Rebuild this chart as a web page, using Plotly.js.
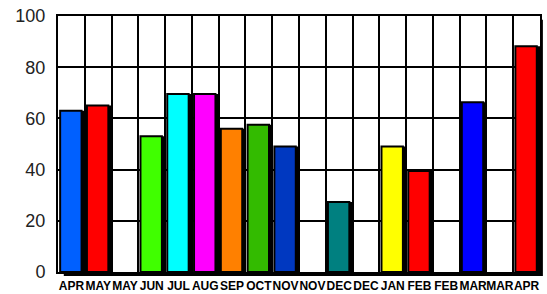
<!DOCTYPE html>
<html><head><meta charset="utf-8">
<script src="https://cdn.plot.ly/plotly-3.0.1.min.js"></script>
<style>html,body{margin:0;padding:0;background:#fff;}</style>
</head><body><div id="chart" style="width:547px;height:294px;"></div>
<script>
const months = ["APR","MAY","MAY","JUN","JUL","AUG","SEP","OCT","NOV","NOV","DEC","DEC","JAN","FEB","FEB","MAR","MAR","APR"];
const values = [63, 65, 0, 53, 69.5, 69.5, 56, 57.5, 49, 0, 27.3, 0, 49, 39.5, 0, 66.3, 0, 88.2];
const colors = ["#0060ff","#ff0000","#ffffff","#40ff00","#00ffff","#ff00ff","#ff8000","#33bb00","#0038c0","#ffffff","#008080","#ffffff","#ffff00","#ff0000","#ffffff","#0000ff","#ffffff","#ff0000"];
const yTicks = [0, 20, 40, 60, 80, 100];

const idx = months.map((m, i) => i);
const has = values.map(v => v > 0);
const xs = idx.filter(i => has[i]);
const ys = xs.map(i => values[i]);
const cs = xs.map(i => colors[i]);

const shadow = {
  type: 'bar', x: xs, y: ys, width: 0.8, offset: -0.29,
  marker: {color: '#000', line: {width: 0}}, hoverinfo: 'skip', showlegend: false
};
const bars = {
  type: 'bar', x: xs, y: ys, width: 0.8, offset: -0.42,
  marker: {color: cs, line: {color: '#000', width: 2}}, showlegend: false
};

const layout = {
  width: 547, height: 294,
  margin: {l: 58, r: 7, t: 16, b: 22},
  paper_bgcolor: '#fff', plot_bgcolor: '#fff',
  barmode: 'overlay',
  font: {family: 'Liberation Sans, Arial, sans-serif', color: '#000'},
  xaxis: {
    range: [-0.5, months.length - 0.5],
    tickmode: 'array', tickvals: idx, ticktext: months, tickangle: 0,
    showgrid: false, ticks: 'outside', ticklen: 2, tickcolor: 'rgba(0,0,0,0)', zeroline: false,
    tickfont: {size: 12, family: 'Liberation Sans Narrow, Liberation Sans, Arial, sans-serif', weight: 'bold', color: '#000'},
    showline: true, linecolor: '#000', linewidth: 2, mirror: true,
    minor: {tick0: -0.5, dtick: 1, showgrid: true, gridcolor: '#000', gridwidth: 2, ticks: ''}
  },
  yaxis: {
    range: [0, 100], tickmode: 'array', tickvals: yTicks,
    showgrid: true, gridcolor: '#000', gridwidth: 2, zeroline: false,
    tickfont: {size: 18, color: '#222'}, ticks: 'outside', ticklen: 7, tickcolor: 'rgba(0,0,0,0)',
    showline: true, linecolor: '#000', linewidth: 2, mirror: true
  },
  shapes: [
    {type: 'rect', xref: 'paper', yref: 'paper', x0: 0.012, x1: 1.0, y0: -0.016, y1: 0, fillcolor: '#000', line: {width: 0}},
    {type: 'rect', xref: 'paper', yref: 'paper', x0: 1.0, x1: 1.006, y0: -0.016, y1: 0.985, fillcolor: '#000', line: {width: 0}}
  ]
};

Plotly.newPlot('chart', [shadow, bars], layout, {displayModeBar: false, staticPlot: true});
</script></body></html>
